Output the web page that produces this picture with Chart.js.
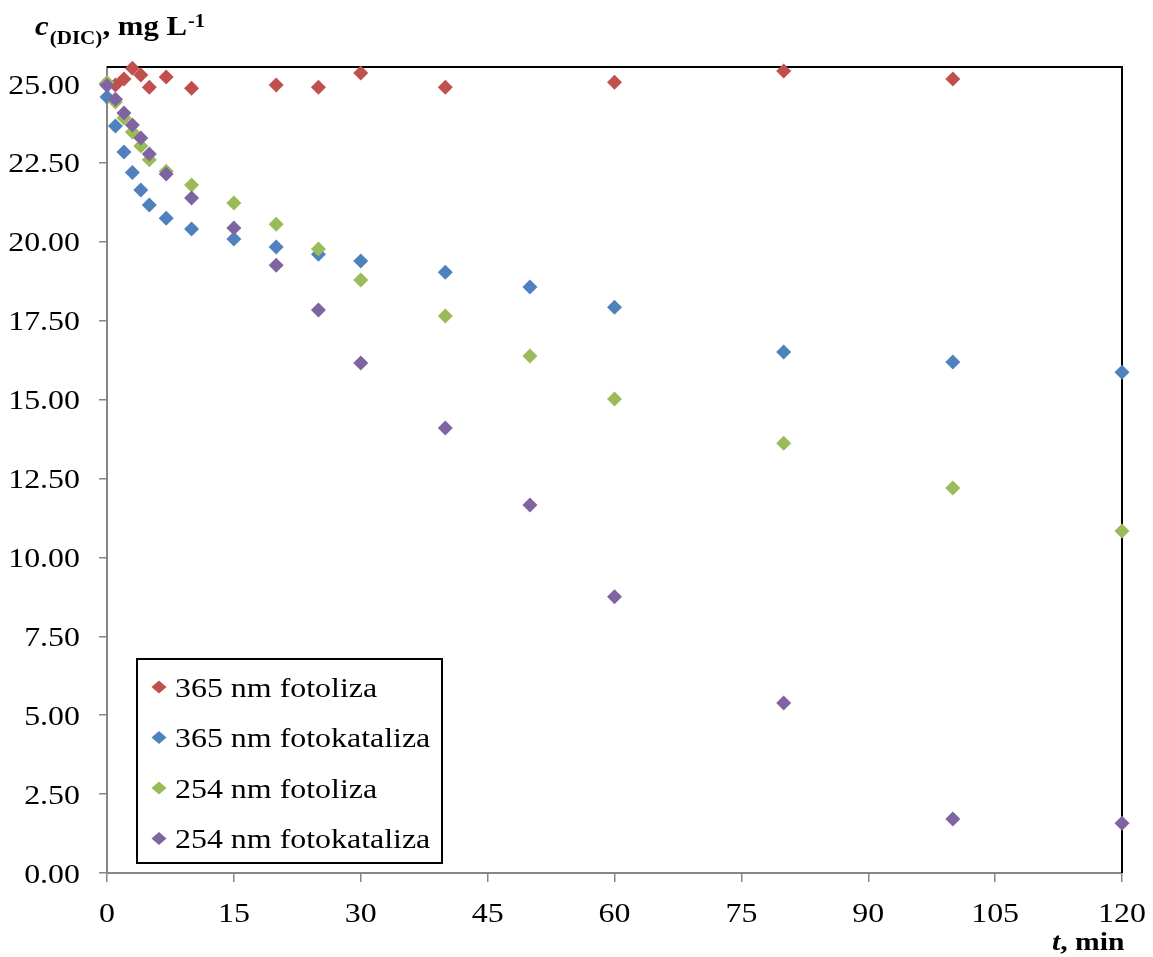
<!DOCTYPE html>
<html>
<head>
<meta charset="utf-8">
<script src="https://cdn.jsdelivr.net/npm/chart.js@4"></script>
<style>
html,body{margin:0;padding:0;background:#fff;}
canvas{display:block;}
</style>
</head>
<body>
<canvas id="c" width="1153" height="957"></canvas>
<script>
// ---- data ----
const seriesNames = ['365 nm fotoliza', '365 nm fotokataliza', '254 nm fotoliza', '254 nm fotokataliza'];
const timesRed = [0, 1, 2, 3, 4, 5, 7, 10, 20, 25, 30, 40, 60, 80, 100];
const valuesRed = [25.00, 24.97, 25.16, 25.50, 25.29, 24.90, 25.22, 24.87, 24.97, 24.90, 25.35, 24.90, 25.06, 25.41, 25.16];
const timesAll = [0, 1, 2, 3, 4, 5, 7, 10, 15, 20, 25, 30, 40, 50, 60, 80, 100, 120];
const valuesBlue = [24.59, 23.67, 22.85, 22.20, 21.64, 21.17, 20.75, 20.41, 20.09, 19.84, 19.61, 19.39, 19.04, 18.57, 17.93, 16.51, 16.19, 15.87];
const valuesGreen = [25.05, 24.43, 23.92, 23.48, 23.04, 22.60, 22.24, 21.80, 21.23, 20.56, 19.77, 18.79, 17.65, 16.38, 15.02, 13.62, 12.20, 10.84];
const valuesPurple = [24.95, 24.52, 24.08, 23.70, 23.29, 22.78, 22.15, 21.39, 20.44, 19.26, 17.84, 16.16, 14.10, 11.66, 8.75, 5.39, 1.71, 1.58];
const xTicks = [0, 15, 30, 45, 60, 75, 90, 105, 120];
const yTicks = [0, 2.5, 5, 7.5, 10, 12.5, 15, 17.5, 20, 22.5, 25];
const xTickLabels = ['0', '15', '30', '45', '60', '75', '90', '105', '120'];
const yTickLabels = ['0.00', '2.50', '5.00', '7.50', '10.00', '12.50', '15.00', '17.50', '20.00', '22.50', '25.00'];

const colors = ['#C0504D', '#4F81BD', '#9BBB59', '#8064A2'];
const pts = (t, v) => t.map((x, i) => ({x: x, y: v[i]}));
const seriesData = [pts(timesRed, valuesRed), pts(timesAll, valuesBlue), pts(timesAll, valuesGreen), pts(timesAll, valuesPurple)];

const FONT = '"Liberation Serif", "Times New Roman", serif';
const GRAY = '#868686';
const SX = 1.14; // horizontal stretch of the text in the original

function drawText(ctx, str, x, y, font, align) {
  ctx.save();
  ctx.font = font;
  ctx.textAlign = align || 'left';
  ctx.translate(x, y);
  ctx.scale(SX, 1);
  ctx.fillText(str, 0, 0);
  const w = ctx.measureText(str).width * SX;
  ctx.restore();
  return w;
}

const framePlugin = {
  id: 'frame',
  beforeDatasetsDraw(chart) {
    const {ctx, chartArea: a} = chart;
    ctx.save();
    ctx.strokeStyle = '#000';
    ctx.lineWidth = 2;
    ctx.beginPath();
    ctx.moveTo(a.left, a.top);
    ctx.lineTo(a.right, a.top);
    ctx.lineTo(a.right, a.bottom);
    ctx.stroke();
    ctx.restore();
  },
  afterDraw(chart) {
    const {ctx, chartArea: a} = chart;
    const xs = chart.scales.x, ys = chart.scales.y;
    ctx.save();
    ctx.fillStyle = '#000';
    ctx.textBaseline = 'alphabetic';
    // tick labels
    yTicks.forEach((v, i) => {
      drawText(ctx, yTickLabels[i], a.left - 27, ys.getPixelForValue(v) + 9.5, '28px ' + FONT, 'right');
    });
    xTicks.forEach((v, i) => {
      drawText(ctx, xTickLabels[i], xs.getPixelForValue(v), a.bottom + 49, '28px ' + FONT, 'center');
    });
    // legend
    const lx = a.left + 30, ly = a.bottom - 214, lw = 305, lh = 204;
    ctx.fillStyle = '#fff';
    ctx.fillRect(lx, ly, lw, lh);
    ctx.strokeStyle = '#000';
    ctx.lineWidth = 2;
    ctx.strokeRect(lx, ly, lw, lh);
    chart.data.datasets.forEach((ds, i) => {
      const cy = ly + 28 + i * 50.5;
      const mx = lx + 22;
      ctx.fillStyle = ds.backgroundColor;
      ctx.beginPath();
      ctx.moveTo(mx, cy - 6.5);
      ctx.lineTo(mx + 7.5, cy);
      ctx.lineTo(mx, cy + 6.5);
      ctx.lineTo(mx - 7.5, cy);
      ctx.closePath();
      ctx.fill();
      ctx.fillStyle = '#000';
      drawText(ctx, ds.label, lx + 38, cy + 9.5, '28px ' + FONT, 'left');
    });
    // y title: c(DIC), mg L-1
    ctx.fillStyle = '#000';
    let x = 35, y = 35;
    x += drawText(ctx, 'c', x, y, 'italic bold 27px ' + FONT) + 1;
    x += drawText(ctx, '(DIC)', x, y + 9, 'bold 18.5px ' + FONT);
    x += drawText(ctx, ', mg L', x, y, 'bold 27px ' + FONT);
    drawText(ctx, '-1', x + 1, y - 8, 'bold 18px ' + FONT);
    // x title: t, min
    x = 1052; y = 950;
    x += drawText(ctx, 't', x, y, 'italic bold 26px ' + FONT);
    drawText(ctx, ', min', x, y, 'bold 26px ' + FONT);
    ctx.restore();
  }
};

new Chart(document.getElementById('c'), {
  type: 'scatter',
  data: {
    datasets: seriesData.map((d, i) => ({
      label: seriesNames[i],
      data: d,
      backgroundColor: colors[i],
      borderColor: colors[i],
      borderWidth: 0,
      pointStyle: 'rectRot',
      pointRadius: 7.5,
      pointHoverRadius: 7.5,
      clip: false,
      order: 4 - i
    }))
  },
  options: {
    responsive: false,
    animation: false,
    events: [],
    layout: {padding: {top: 67, right: 31, left: 0, bottom: 0}},
    plugins: {legend: {display: false}, tooltip: {enabled: false}, title: {display: false}},
    scales: {
      x: {
        type: 'linear',
        min: 0, max: 120,
        afterBuildTicks: s => { s.ticks = xTicks.map(v => ({value: v})); },
        afterFit: s => { s.height = 84; },
        border: {color: GRAY, width: 2},
        grid: {drawOnChartArea: false, drawTicks: true, tickLength: 9, color: GRAY, lineWidth: 1.5},
        ticks: {display: false}
      },
      y: {
        type: 'linear',
        min: 0, max: 25.54,
        afterBuildTicks: s => { s.ticks = yTicks.map(v => ({value: v})); },
        afterFit: s => { s.width = 107; },
        border: {color: GRAY, width: 2},
        grid: {drawOnChartArea: false, drawTicks: true, tickLength: 8, color: GRAY, lineWidth: 1.5},
        ticks: {display: false}
      }
    }
  },
  plugins: [framePlugin]
});
</script>
</body>
</html>
